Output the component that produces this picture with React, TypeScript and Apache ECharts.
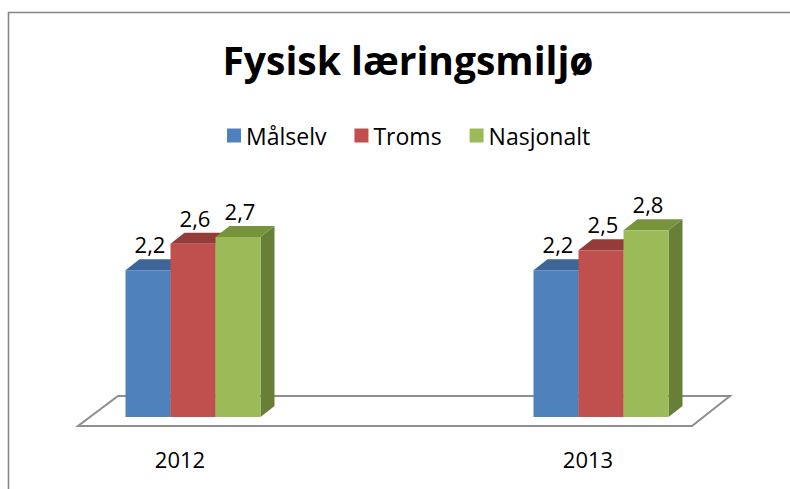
import React, { useEffect, useRef } from "react";
import * as echarts from "echarts";

const TITLE = "Fysisk læringsmiljø";
const categories = ["2012", "2013"];
const seriesNames = ["Målselv", "Troms", "Nasjonalt"];
const malselv = [2.2, 2.2];
const troms = [2.6, 2.5];
const nasjonalt = [2.7, 2.8];
const seriesValues = [malselv, troms, nasjonalt];

const frontColors = ["#4F81BD", "#C0504D", "#9BBB59"];
const topColors = ["#3D6595", "#943C3A", "#77933C"];
const sideColors = ["#35587F", "#7F3230", "#677F36"];

const FONT = "'Open Sans', 'Noto Sans', sans-serif";
const BAR_W = 45;
const DX = 14;
const DY = 11;

function fmt(v: number) {
  return v.toFixed(1).replace(".", ",");
}

function makeRender(idx: number) {
  return (params: any, api: any) => {
    const cat = api.value(0);
    const v = api.value(1);
    const base = api.coord([cat, 0]);
    const top = api.coord([cat, v]);
    const x0 = base[0] - 1.5 * BAR_W + idx * BAR_W;
    const x1 = x0 + BAR_W;
    const yb = base[1];
    const yt = top[1];
    return {
      type: "group",
      children: [
        {
          type: "polygon",
          shape: {
            points: [
              [x1, yb],
              [x1 + DX, yb - DY],
              [x1 + DX, yt - DY],
              [x1, yt],
            ],
          },
          style: { fill: sideColors[idx] },
        },
        {
          type: "polygon",
          shape: {
            points: [
              [x0, yt],
              [x1, yt],
              [x1 + DX, yt - DY],
              [x0 + DX, yt - DY],
            ],
          },
          style: { fill: topColors[idx] },
        },
        {
          type: "rect",
          shape: { x: x0, y: yt, width: BAR_W, height: yb - yt },
          style: { fill: frontColors[idx] },
        },
        {
          type: "text",
          x: x0 + BAR_W / 2 + 2,
          y: yt - DY - 15,
          style: {
            text: fmt(v),
            fill: "#000",
            font: `22px ${FONT}`,
            textAlign: "center",
            textVerticalAlign: "middle",
          },
        },
      ],
    };
  };
}

export default function App() {
  const ref = useRef<HTMLDivElement>(null);
  useEffect(() => {
    if (!ref.current) return;
    const chart = echarts.init(ref.current, null, { renderer: "svg" });
    chart.setOption({
      animation: false,
      backgroundColor: "#fff",
      textStyle: { fontFamily: FONT },
      legend: {
        data: seriesNames,
        left: 227,
        top: 124,
        padding: 0,
        icon: "rect",
        itemWidth: 14,
        itemHeight: 14,
        itemGap: 28,
        textStyle: { fontSize: 23, color: "#000", fontFamily: FONT },
      },
      grid: { left: 193, right: 189, top: 217, bottom: 72 },
      xAxis: {
        type: "category",
        data: categories,
        boundaryGap: false,
        axisLine: { show: false },
        axisTick: { show: false },
        splitLine: { show: false },
        axisLabel: {
          fontSize: 22,
          color: "#000",
          fontFamily: FONT,
          margin: 31,
          padding: [0, 26, 0, 0],
        },
      },
      yAxis: {
        type: "value",
        min: 0,
        max: 3,
        show: false,
      },
      graphic: [
        {
          type: "rect",
          shape: { x: 8.5, y: 12.5, width: 820, height: 520 },
          style: { fill: "#fff", stroke: "#868686", lineWidth: 1.6 },
          z: -10,
        },
        {
          type: "polygon",
          shape: {
            points: [
              [78, 426],
              [692, 426],
              [730, 396],
              [118, 396],
            ],
          },
          style: { fill: "#fff", stroke: "#8e8e8e", lineWidth: 2 },
          z: -5,
        },
        {
          type: "text",
          x: 408,
          y: 59,
          style: {
            text: TITLE,
            fill: "#000",
            font: `bold 39px ${FONT}`,
            textAlign: "center",
            textVerticalAlign: "middle",
          },
        },
      ],
      series: seriesNames.map((name, idx) => ({
        type: "custom",
        name,
        itemStyle: { color: frontColors[idx] },
        renderItem: makeRender(idx),
        data: seriesValues[idx].map((v, i) => [i, v]),
        encode: { x: 0, y: 1 },
      })),
    });
    return () => chart.dispose();
  }, []);
  return (
    <div
      ref={ref}
      style={{ position: "absolute", left: 0, top: 0, width: 790, height: 489 }}
    />
  );
}
